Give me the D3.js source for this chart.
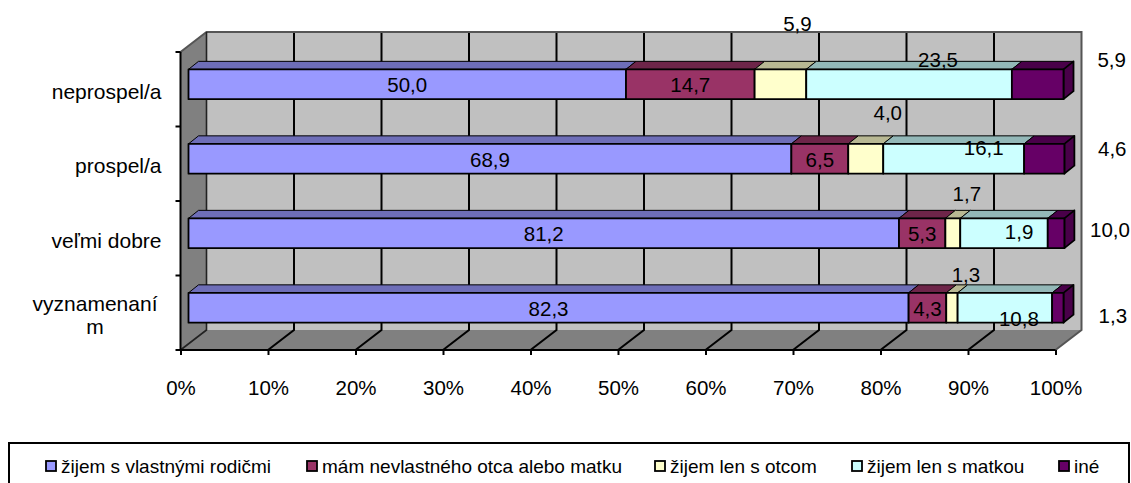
<!DOCTYPE html>
<html>
<head>
<meta charset="utf-8">
<script src="https://cdn.jsdelivr.net/npm/d3@7"></script>
<style>
    body { margin: 0; background: #fff; }
    text { font-family: "Liberation Sans", Arial, sans-serif; fill: #000; }
</style>
</head>
<body>
<script>
// Categories, top row first
const categories = ["neprospel/a", "prospel/a", "veľmi dobre", "vyznamenaním"];
const seriesNames = ["žijem s vlastnými rodičmi", "mám nevlastného otca alebo matku", "žijem len s otcom", "žijem len s matkou", "iné"];
const seriesColors = ["#9999FF", "#993366", "#FFFFCC", "#CCFFFF", "#660066"];

// Values per series, same order as categories
const vlastni = [50.0, 68.9, 81.2, 82.3];
const nevlastny = [14.7, 6.5, 5.3, 4.3];
const otec = [5.9, 4.0, 1.7, 1.3];
const matka = [23.5, 16.1, 10.0, 10.8];
const ine = [5.9, 4.6, 1.9, 1.3];
const allSeries = [vlastni, nevlastny, otec, matka, ine];

// The value labels were dragged by hand in the original, so keep the shift per label
const labelShift = [
    [[0, 0], [0, 0], [0, 0], [0, 0]],
    [[0, 0], [0, 0], [0, 0], [0, 0]],
    [[17, -61], [22, -47], [14, -40], [14, -34]],
    [[29, -25], [30, -12], [106, -4], [14, 10]],
    [[74, -25], [68, -11], [-37, -2], [55, 7]]
];
const labelFont = 20.5, axisFont = 20.5, legendFont = 19;

const width = 1131, height = 483;
const depthX = 26, depthY = 20;        // depth of the 3D box
const barDepthX = 10, barDepthY = 8;   // depth of a bar
const barInsetX = 8, barInsetY = 5;    // bars stand a bit behind the front edge

const x = d3.scaleLinear().domain([0, 100]).range([180.5, 1055.5]);
const y = d3.scaleBand().domain(categories).range([52, 350]);
const barHeight = y.bandwidth() * 0.4;

const svg = d3.select("body").append("svg")
    .attr("width", width)
    .attr("height", height)
    .style("display", "block");

const plotTop = y.range()[0], plotBottom = y.range()[1];
const left = x(0), right = x(100);

// Back wall, left wall and floor
const poly = (pts) => pts.map(p => p.join(",")).join(" ");
svg.append("polygon")
    .attr("points", poly([[left + depthX, plotTop - depthY], [right + depthX, plotTop - depthY], [right + depthX, plotBottom - depthY], [left + depthX, plotBottom - depthY]]))
    .attr("fill", "#C0C0C0");
svg.append("polygon")
    .attr("points", poly([[left, plotTop], [left + depthX, plotTop - depthY], [left + depthX, plotBottom - depthY], [left, plotBottom]]))
    .attr("fill", "#808080");
svg.append("polygon")
    .attr("points", poly([[left, plotBottom], [left + depthX, plotBottom - depthY], [right + depthX, plotBottom - depthY], [right, plotBottom]]))
    .attr("fill", "#808080");

// Gridlines on wall and floor
const ticks = d3.range(0, 101, 10);
svg.append("g").selectAll("polyline")
    .data(ticks.filter(t => t > 0 && t < 100))
    .enter()
    .append("polyline")
    .attr("points", d => poly([[x(d), plotBottom], [x(d) + depthX, plotBottom - depthY], [x(d) + depthX, plotTop - depthY]]))
    .attr("fill", "none")
    .attr("stroke", "#000")
    .attr("stroke-width", 2);

// Box outlines in gray
svg.append("polyline")
    .attr("points", poly([[left, plotTop], [left + depthX, plotTop - depthY], [right + depthX, plotTop - depthY], [right + depthX, plotBottom - depthY], [right, plotBottom]]))
    .attr("fill", "none")
    .attr("stroke", "#555")
    .attr("stroke-width", 2);
svg.append("polyline")
    .attr("points", poly([[left, plotBottom], [left + depthX, plotBottom - depthY], [left + depthX, plotTop - depthY]]))
    .attr("fill", "none")
    .attr("stroke", "#222")
    .attr("stroke-width", 1.6);

// Bars
const darker = (c) => {
    const col = d3.rgb(c);
    return d3.rgb(col.r * 0.72, col.g * 0.72, col.b * 0.72).formatHex();
};
const barTop = (cat) => y(cat) + y.bandwidth() / 2 - barHeight / 2 - barInsetY;
const barX = (v) => x(v) + barInsetX;

categories.forEach((cat, row) => {
    const top = barTop(cat), bottom = top + barHeight;
    let cum = 0;
    allSeries.forEach((values, s) => {
        const x0 = barX(cum), x1 = barX(cum + values[row]);
        const color = seriesColors[s];
        const g = svg.append("g").attr("stroke", "#000").attr("stroke-width", 1.8).attr("stroke-linejoin", "round");
        g.append("polygon")
            .attr("points", poly([[x0, top], [x0 + barDepthX, top - barDepthY], [x1 + barDepthX, top - barDepthY], [x1, top]]))
            .attr("fill", darker(color))
            .attr("stroke-width", 1);
        if (s === allSeries.length - 1) {
            g.append("polygon")
                .attr("points", poly([[x1, top], [x1 + barDepthX, top - barDepthY], [x1 + barDepthX, bottom - barDepthY], [x1, bottom]]))
                .attr("fill", darker(color));
        }
        g.append("rect")
            .attr("x", x0)
            .attr("y", top)
            .attr("width", x1 - x0)
            .attr("height", barHeight)
            .attr("fill", color);
        cum += values[row];
    });
});

// Front axes
svg.append("line").attr("x1", left).attr("x2", left).attr("y1", plotTop).attr("y2", plotBottom).attr("stroke", "#000").attr("stroke-width", 2);
svg.append("line").attr("x1", left).attr("x2", right).attr("y1", plotBottom).attr("y2", plotBottom).attr("stroke", "#000").attr("stroke-width", 2);
svg.append("g").selectAll("line")
    .data(d3.range(categories.length + 1))
    .enter()
    .append("line")
    .attr("x1", left - 5).attr("x2", left)
    .attr("y1", d => plotTop + d * y.step())
    .attr("y2", d => plotTop + d * y.step())
    .attr("stroke", "#000")
    .attr("stroke-width", 2);

const axis = svg.append("g")
    .attr("transform", `translate(0, ${plotBottom})`)
    .call(d3.axisBottom(x).tickValues(ticks).tickSize(5).tickPadding(25).tickFormat(d => d + "%"));
axis.select(".domain").remove();
axis.selectAll("line").attr("stroke", "#000").attr("stroke-width", 2);
axis.selectAll("text").style("font-family", '"Liberation Sans", Arial, sans-serif').style("font-size", axisFont + "px");

// Category labels, wrapped per character like the original
const labelRight = 161.5, labelMaxWidth = 126, lineHeight = 23;
categories.forEach((cat, row) => {
    const t = svg.append("text").attr("font-size", axisFont + 0.5).attr("text-anchor", "middle");
    const probe = t.append("tspan").text(cat);
    const lines = [];
    if (probe.node().getComputedTextLength() <= labelMaxWidth) {
        lines.push(cat);
    } else {
        let n = cat.length;
        while (n > 1) {
            probe.text(cat.slice(0, n));
            if (probe.node().getComputedTextLength() <= labelMaxWidth) break;
            n--;
        }
        lines.push(cat.slice(0, n), cat.slice(n));
    }
    const widths = lines.map(l => { probe.text(l); return probe.node().getComputedTextLength(); });
    probe.remove();
    // wrapped label sits a little further from the axis
    const cx = labelRight - d3.max(widths) / 2 - (lines.length > 1 ? 4 : 0);
    const cy = y(cat) + y.bandwidth() / 2;
    lines.forEach((l, i) => {
        t.append("tspan")
            .attr("x", cx)
            .attr("y", cy + (i - (lines.length - 1) / 2) * lineHeight + 2)
            .attr("dy", "0.35em")
            .text(l);
    });
});

// Value labels
allSeries.forEach((values, s) => {
    let cums = categories.map((c, row) => d3.sum(allSeries.slice(0, s), v => v[row]));
    svg.append("g").selectAll("text")
        .data(values)
        .enter()
        .append("text")
        .attr("x", (d, row) => barX(cums[row] + d / 2) + labelShift[s][row][0])
        .attr("y", (d, row) => barTop(categories[row]) + barHeight / 2 + 1 + labelShift[s][row][1])
        .attr("dy", "0.35em")
        .attr("text-anchor", "middle")
        .attr("font-size", labelFont)
        .text(d => d.toFixed(1).replace(".", ","));
});

// Legend, its lower edge is cut off by the picture
const legendX = [46, 307, 655, 852, 1059];
svg.append("rect")
    .attr("x", 9).attr("y", 443)
    .attr("width", 1120).attr("height", 60)
    .attr("fill", "#fff")
    .attr("stroke", "#000")
    .attr("stroke-width", 2);
seriesNames.forEach((name, i) => {
    svg.append("rect")
        .attr("x", legendX[i]).attr("y", 461)
        .attr("width", 10).attr("height", 10)
        .attr("fill", seriesColors[i])
        .attr("stroke", "#000")
        .attr("stroke-width", 1.8);
    svg.append("text")
        .attr("x", legendX[i] + 15)
        .attr("y", 466)
        .attr("dy", "0.35em")
        .attr("font-size", legendFont)
        .text(name);
});
</script>
</body>
</html>
